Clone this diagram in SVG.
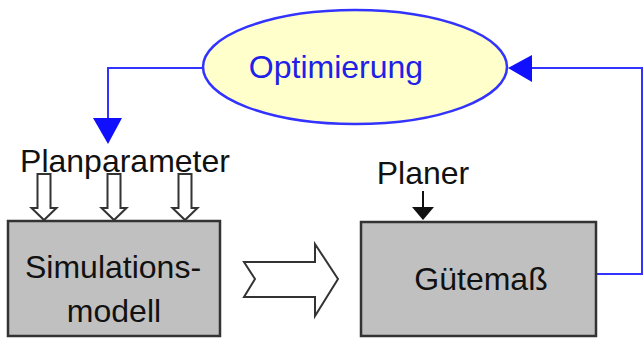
<svg xmlns="http://www.w3.org/2000/svg" width="644" height="340" viewBox="0 0 644 340">
  <defs>
    <style>
      .lbl { font-family: "Liberation Sans", Arial, Helvetica, sans-serif; font-size: 32px; fill: #111; }
      .blue { fill: none; stroke: #3333FF; stroke-width: 2; }
      .box { fill: #C0C0C0; stroke: #333; stroke-width: 2.5; }
      .hollow { fill: #fff; stroke: #333; stroke-width: 2; stroke-linejoin: miter; }
    </style>
  </defs>
  <rect width="644" height="340" fill="#fff"/>

  <g id="optimierung">
    <ellipse cx="355" cy="67" rx="152" ry="57" fill="#FFFFCC" stroke="#3333FF" stroke-width="2.5"/>
    <text x="336" y="78" text-anchor="middle" class="lbl" style="fill:#2020E8">Optimierung</text>
  </g>

  <g id="planparameter">
    <text x="125" y="172" text-anchor="middle" class="lbl">Planparameter</text>
    <path class="hollow" d="M37.5,174 H50.5 V208 H56.5 L44,220 L31.5,208 H37.5 Z"/>
    <path class="hollow" d="M107.5,174 H120.5 V208 H126.5 L114,220 L101.5,208 H107.5 Z"/>
    <path class="hollow" d="M178.5,174 H191.5 V208 H197.5 L185,220 L172.5,208 H178.5 Z"/>
  </g>

  <g id="simulationsmodell">
    <rect class="box" x="8" y="221" width="212" height="115"/>
    <text x="113" y="278" text-anchor="middle" class="lbl">Simulations-</text>
    <text x="114" y="322" text-anchor="middle" class="lbl">modell</text>
  </g>

  <g id="transfer-arrow">
    <path class="hollow" d="M244,262 H315 V244 L338,279 L315,316 V297 H244 L255,279 Z"/>
  </g>

  <g id="planer">
    <text x="423" y="184" text-anchor="middle" class="lbl">Planer</text>
    <line x1="423" y1="191" x2="423" y2="208" stroke="#111" stroke-width="2"/>
    <path d="M412,207 H434 L423,220 Z" fill="#111"/>
  </g>

  <g id="guetemass">
    <rect class="box" x="361" y="222" width="235" height="114"/>
    <text x="481" y="290" text-anchor="middle" class="lbl">Gütemaß</text>
  </g>

  <g id="connectors">
    <polyline class="blue" points="203,68 108,68 108,119"/>
    <path d="M93,118 H122 L108,144 Z" fill="#1010FF"/>
    <polyline class="blue" points="597,274 642,274 642,68 530,68"/>
    <path d="M532,55 V82 L508,68 Z" fill="#1010FF"/>
  </g>
</svg>
